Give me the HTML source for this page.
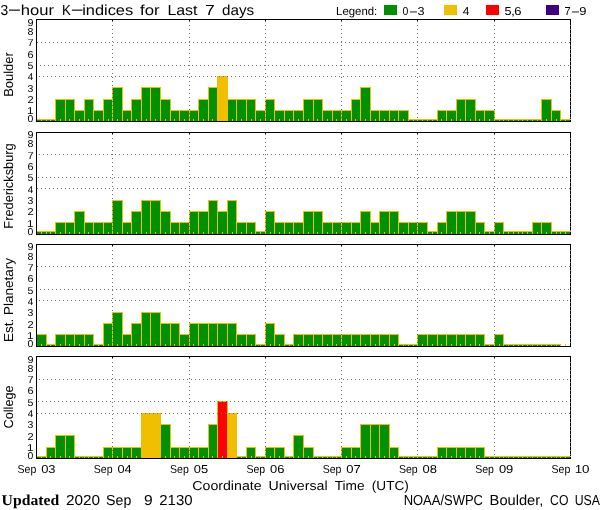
<!DOCTYPE html>
<html><head><meta charset="utf-8"><title>3-hour K-indices for Last 7 days</title>
<style>
html,body{margin:0;padding:0;background:#fff;overflow:hidden}
svg{display:block}
svg text{font-family:"Liberation Sans", sans-serif;fill:#000;text-rendering:geometricPrecision}
</style></head><body>
<svg width="600" height="510" viewBox="0 0 600 510">
<rect x="0" y="0" width="600" height="510" fill="#fff"/>
<g shape-rendering="crispEdges">
<rect x="36" y="119" width="11" height="2" fill="#F0C000"/>
<rect x="37" y="120" width="9" height="1" fill="#009000"/>
<rect x="46" y="119" width="10" height="2" fill="#F0C000"/>
<rect x="47" y="120" width="8" height="1" fill="#009000"/>
<rect x="55" y="99" width="11" height="22" fill="#F0C000"/>
<rect x="56" y="100" width="9" height="21" fill="#009000"/>
<rect x="65" y="99" width="10" height="22" fill="#F0C000"/>
<rect x="66" y="100" width="8" height="21" fill="#009000"/>
<rect x="74" y="110" width="11" height="11" fill="#F0C000"/>
<rect x="75" y="111" width="9" height="10" fill="#009000"/>
<rect x="84" y="99" width="10" height="22" fill="#F0C000"/>
<rect x="85" y="100" width="8" height="21" fill="#009000"/>
<rect x="93" y="110" width="11" height="11" fill="#F0C000"/>
<rect x="94" y="111" width="9" height="10" fill="#009000"/>
<rect x="103" y="99" width="10" height="22" fill="#F0C000"/>
<rect x="104" y="100" width="8" height="21" fill="#009000"/>
<rect x="112" y="87" width="11" height="34" fill="#F0C000"/>
<rect x="113" y="88" width="9" height="33" fill="#009000"/>
<rect x="122" y="110" width="10" height="11" fill="#F0C000"/>
<rect x="123" y="111" width="8" height="10" fill="#009000"/>
<rect x="131" y="99" width="11" height="22" fill="#F0C000"/>
<rect x="132" y="100" width="9" height="21" fill="#009000"/>
<rect x="141" y="87" width="10" height="34" fill="#F0C000"/>
<rect x="142" y="88" width="8" height="33" fill="#009000"/>
<rect x="150" y="87" width="11" height="34" fill="#F0C000"/>
<rect x="151" y="88" width="9" height="33" fill="#009000"/>
<rect x="160" y="99" width="11" height="22" fill="#F0C000"/>
<rect x="161" y="100" width="9" height="21" fill="#009000"/>
<rect x="170" y="110" width="10" height="11" fill="#F0C000"/>
<rect x="171" y="111" width="8" height="10" fill="#009000"/>
<rect x="179" y="110" width="11" height="11" fill="#F0C000"/>
<rect x="180" y="111" width="9" height="10" fill="#009000"/>
<rect x="189" y="110" width="10" height="11" fill="#F0C000"/>
<rect x="190" y="111" width="8" height="10" fill="#009000"/>
<rect x="198" y="99" width="11" height="22" fill="#F0C000"/>
<rect x="199" y="100" width="9" height="21" fill="#009000"/>
<rect x="208" y="87" width="10" height="34" fill="#F0C000"/>
<rect x="209" y="88" width="8" height="33" fill="#009000"/>
<rect x="217" y="76" width="11" height="45" fill="#F0C000"/>
<rect x="218" y="77" width="9" height="44" fill="#F0C000"/>
<rect x="227" y="99" width="10" height="22" fill="#F0C000"/>
<rect x="228" y="100" width="8" height="21" fill="#009000"/>
<rect x="236" y="99" width="11" height="22" fill="#F0C000"/>
<rect x="237" y="100" width="9" height="21" fill="#009000"/>
<rect x="246" y="99" width="10" height="22" fill="#F0C000"/>
<rect x="247" y="100" width="8" height="21" fill="#009000"/>
<rect x="255" y="110" width="11" height="11" fill="#F0C000"/>
<rect x="256" y="111" width="9" height="10" fill="#009000"/>
<rect x="265" y="99" width="10" height="22" fill="#F0C000"/>
<rect x="266" y="100" width="8" height="21" fill="#009000"/>
<rect x="274" y="110" width="11" height="11" fill="#F0C000"/>
<rect x="275" y="111" width="9" height="10" fill="#009000"/>
<rect x="284" y="110" width="10" height="11" fill="#F0C000"/>
<rect x="285" y="111" width="8" height="10" fill="#009000"/>
<rect x="293" y="110" width="11" height="11" fill="#F0C000"/>
<rect x="294" y="111" width="9" height="10" fill="#009000"/>
<rect x="303" y="99" width="11" height="22" fill="#F0C000"/>
<rect x="304" y="100" width="9" height="21" fill="#009000"/>
<rect x="313" y="99" width="10" height="22" fill="#F0C000"/>
<rect x="314" y="100" width="8" height="21" fill="#009000"/>
<rect x="322" y="110" width="11" height="11" fill="#F0C000"/>
<rect x="323" y="111" width="9" height="10" fill="#009000"/>
<rect x="332" y="110" width="10" height="11" fill="#F0C000"/>
<rect x="333" y="111" width="8" height="10" fill="#009000"/>
<rect x="341" y="110" width="11" height="11" fill="#F0C000"/>
<rect x="342" y="111" width="9" height="10" fill="#009000"/>
<rect x="351" y="99" width="10" height="22" fill="#F0C000"/>
<rect x="352" y="100" width="8" height="21" fill="#009000"/>
<rect x="360" y="87" width="11" height="34" fill="#F0C000"/>
<rect x="361" y="88" width="9" height="33" fill="#009000"/>
<rect x="370" y="110" width="10" height="11" fill="#F0C000"/>
<rect x="371" y="111" width="8" height="10" fill="#009000"/>
<rect x="379" y="110" width="11" height="11" fill="#F0C000"/>
<rect x="380" y="111" width="9" height="10" fill="#009000"/>
<rect x="389" y="110" width="10" height="11" fill="#F0C000"/>
<rect x="390" y="111" width="8" height="10" fill="#009000"/>
<rect x="398" y="110" width="11" height="11" fill="#F0C000"/>
<rect x="399" y="111" width="9" height="10" fill="#009000"/>
<rect x="408" y="119" width="10" height="2" fill="#F0C000"/>
<rect x="409" y="120" width="8" height="1" fill="#009000"/>
<rect x="417" y="119" width="11" height="2" fill="#F0C000"/>
<rect x="418" y="120" width="9" height="1" fill="#009000"/>
<rect x="427" y="119" width="11" height="2" fill="#F0C000"/>
<rect x="428" y="120" width="9" height="1" fill="#009000"/>
<rect x="437" y="110" width="10" height="11" fill="#F0C000"/>
<rect x="438" y="111" width="8" height="10" fill="#009000"/>
<rect x="446" y="110" width="11" height="11" fill="#F0C000"/>
<rect x="447" y="111" width="9" height="10" fill="#009000"/>
<rect x="456" y="99" width="10" height="22" fill="#F0C000"/>
<rect x="457" y="100" width="8" height="21" fill="#009000"/>
<rect x="465" y="99" width="11" height="22" fill="#F0C000"/>
<rect x="466" y="100" width="9" height="21" fill="#009000"/>
<rect x="475" y="110" width="10" height="11" fill="#F0C000"/>
<rect x="476" y="111" width="8" height="10" fill="#009000"/>
<rect x="484" y="110" width="11" height="11" fill="#F0C000"/>
<rect x="485" y="111" width="9" height="10" fill="#009000"/>
<rect x="494" y="119" width="10" height="2" fill="#F0C000"/>
<rect x="495" y="120" width="8" height="1" fill="#009000"/>
<rect x="503" y="119" width="11" height="2" fill="#F0C000"/>
<rect x="504" y="120" width="9" height="1" fill="#009000"/>
<rect x="513" y="119" width="10" height="2" fill="#F0C000"/>
<rect x="514" y="120" width="8" height="1" fill="#009000"/>
<rect x="522" y="119" width="11" height="2" fill="#F0C000"/>
<rect x="523" y="120" width="9" height="1" fill="#009000"/>
<rect x="532" y="119" width="10" height="2" fill="#F0C000"/>
<rect x="533" y="120" width="8" height="1" fill="#009000"/>
<rect x="541" y="99" width="11" height="22" fill="#F0C000"/>
<rect x="542" y="100" width="9" height="21" fill="#009000"/>
<rect x="551" y="110" width="10" height="11" fill="#F0C000"/>
<rect x="552" y="111" width="8" height="10" fill="#009000"/>
<rect x="560" y="119" width="11" height="2" fill="#F0C000"/>
<rect x="561" y="120" width="9" height="1" fill="#009000"/>
<rect x="41" y="119" width="1" height="2" fill="#F0C000"/>
<rect x="50" y="119" width="1" height="2" fill="#F0C000"/>
<rect x="60" y="119" width="1" height="2" fill="#F0C000"/>
<rect x="69" y="119" width="1" height="2" fill="#F0C000"/>
<rect x="79" y="119" width="1" height="2" fill="#F0C000"/>
<rect x="88" y="119" width="1" height="2" fill="#F0C000"/>
<rect x="98" y="119" width="1" height="2" fill="#F0C000"/>
<rect x="108" y="119" width="1" height="2" fill="#F0C000"/>
<rect x="117" y="119" width="1" height="2" fill="#F0C000"/>
<rect x="127" y="119" width="1" height="2" fill="#F0C000"/>
<rect x="136" y="119" width="1" height="2" fill="#F0C000"/>
<rect x="146" y="119" width="1" height="2" fill="#F0C000"/>
<rect x="155" y="119" width="1" height="2" fill="#F0C000"/>
<rect x="165" y="119" width="1" height="2" fill="#F0C000"/>
<rect x="174" y="119" width="1" height="2" fill="#F0C000"/>
<rect x="184" y="119" width="1" height="2" fill="#F0C000"/>
<rect x="193" y="119" width="1" height="2" fill="#F0C000"/>
<rect x="203" y="119" width="1" height="2" fill="#F0C000"/>
<rect x="212" y="119" width="1" height="2" fill="#F0C000"/>
<rect x="222" y="119" width="1" height="2" fill="#F0C000"/>
<rect x="232" y="119" width="1" height="2" fill="#F0C000"/>
<rect x="241" y="119" width="1" height="2" fill="#F0C000"/>
<rect x="251" y="119" width="1" height="2" fill="#F0C000"/>
<rect x="260" y="119" width="1" height="2" fill="#F0C000"/>
<rect x="270" y="119" width="1" height="2" fill="#F0C000"/>
<rect x="279" y="119" width="1" height="2" fill="#F0C000"/>
<rect x="289" y="119" width="1" height="2" fill="#F0C000"/>
<rect x="298" y="119" width="1" height="2" fill="#F0C000"/>
<rect x="308" y="119" width="1" height="2" fill="#F0C000"/>
<rect x="317" y="119" width="1" height="2" fill="#F0C000"/>
<rect x="327" y="119" width="1" height="2" fill="#F0C000"/>
<rect x="336" y="119" width="1" height="2" fill="#F0C000"/>
<rect x="346" y="119" width="1" height="2" fill="#F0C000"/>
<rect x="355" y="119" width="1" height="2" fill="#F0C000"/>
<rect x="365" y="119" width="1" height="2" fill="#F0C000"/>
<rect x="375" y="119" width="1" height="2" fill="#F0C000"/>
<rect x="384" y="119" width="1" height="2" fill="#F0C000"/>
<rect x="394" y="119" width="1" height="2" fill="#F0C000"/>
<rect x="403" y="119" width="1" height="2" fill="#F0C000"/>
<rect x="413" y="119" width="1" height="2" fill="#F0C000"/>
<rect x="422" y="119" width="1" height="2" fill="#F0C000"/>
<rect x="432" y="119" width="1" height="2" fill="#F0C000"/>
<rect x="441" y="119" width="1" height="2" fill="#F0C000"/>
<rect x="451" y="119" width="1" height="2" fill="#F0C000"/>
<rect x="460" y="119" width="1" height="2" fill="#F0C000"/>
<rect x="470" y="119" width="1" height="2" fill="#F0C000"/>
<rect x="479" y="119" width="1" height="2" fill="#F0C000"/>
<rect x="489" y="119" width="1" height="2" fill="#F0C000"/>
<rect x="499" y="119" width="1" height="2" fill="#F0C000"/>
<rect x="508" y="119" width="1" height="2" fill="#F0C000"/>
<rect x="518" y="119" width="1" height="2" fill="#F0C000"/>
<rect x="527" y="119" width="1" height="2" fill="#F0C000"/>
<rect x="537" y="119" width="1" height="2" fill="#F0C000"/>
<rect x="546" y="119" width="1" height="2" fill="#F0C000"/>
<rect x="556" y="119" width="1" height="2" fill="#F0C000"/>
<rect x="565" y="119" width="1" height="2" fill="#F0C000"/>
<path d="M39 76.5H570" stroke="#707070" stroke-dasharray="1 3" fill="none"/>
<path d="M36 65.5H570" stroke="#707070" stroke-dasharray="1 3" fill="none"/>
<path d="M37 42.5H570" stroke="#707070" stroke-dasharray="1 3" fill="none"/>
<rect x="112" y="20" width="1" height="1" fill="#000"/>
<rect x="112" y="21" width="1" height="1" fill="#707070"/>
<path d="M112.5 25V121" stroke="#707070" stroke-dasharray="1 3" fill="none"/>
<rect x="189" y="20" width="1" height="1" fill="#000"/>
<rect x="189" y="21" width="1" height="1" fill="#707070"/>
<path d="M189.5 25V121" stroke="#707070" stroke-dasharray="1 3" fill="none"/>
<rect x="265" y="20" width="1" height="1" fill="#000"/>
<rect x="265" y="21" width="1" height="1" fill="#707070"/>
<path d="M265.5 25V121" stroke="#707070" stroke-dasharray="1 3" fill="none"/>
<rect x="341" y="20" width="1" height="1" fill="#000"/>
<rect x="341" y="21" width="1" height="1" fill="#707070"/>
<path d="M341.5 25V121" stroke="#707070" stroke-dasharray="1 3" fill="none"/>
<rect x="417" y="20" width="1" height="1" fill="#000"/>
<rect x="417" y="21" width="1" height="1" fill="#707070"/>
<path d="M417.5 25V121" stroke="#707070" stroke-dasharray="1 3" fill="none"/>
<rect x="494" y="20" width="1" height="1" fill="#000"/>
<rect x="494" y="21" width="1" height="1" fill="#707070"/>
<path d="M494.5 25V121" stroke="#707070" stroke-dasharray="1 3" fill="none"/>
<rect x="36" y="19" width="535" height="1" fill="#000"/>
<rect x="36" y="121" width="535" height="1" fill="#000"/>
<rect x="36" y="19" width="1" height="103" fill="#000"/>
<rect x="570" y="19" width="1" height="103" fill="#000"/>
<rect x="570" y="119" width="1" height="1" fill="#F0C000"/>
<path d="M570.5 25V121" stroke="#666" stroke-dasharray="1 3" fill="none"/>
<rect x="36" y="231" width="11" height="3" fill="#F0C000"/>
<rect x="37" y="232" width="9" height="2" fill="#009000"/>
<rect x="46" y="231" width="10" height="3" fill="#F0C000"/>
<rect x="47" y="232" width="8" height="2" fill="#009000"/>
<rect x="55" y="222" width="11" height="12" fill="#F0C000"/>
<rect x="56" y="223" width="9" height="11" fill="#009000"/>
<rect x="65" y="222" width="10" height="12" fill="#F0C000"/>
<rect x="66" y="223" width="8" height="11" fill="#009000"/>
<rect x="74" y="211" width="11" height="23" fill="#F0C000"/>
<rect x="75" y="212" width="9" height="22" fill="#009000"/>
<rect x="84" y="222" width="10" height="12" fill="#F0C000"/>
<rect x="85" y="223" width="8" height="11" fill="#009000"/>
<rect x="93" y="222" width="11" height="12" fill="#F0C000"/>
<rect x="94" y="223" width="9" height="11" fill="#009000"/>
<rect x="103" y="222" width="10" height="12" fill="#F0C000"/>
<rect x="104" y="223" width="8" height="11" fill="#009000"/>
<rect x="112" y="200" width="11" height="34" fill="#F0C000"/>
<rect x="113" y="201" width="9" height="33" fill="#009000"/>
<rect x="122" y="222" width="10" height="12" fill="#F0C000"/>
<rect x="123" y="223" width="8" height="11" fill="#009000"/>
<rect x="131" y="211" width="11" height="23" fill="#F0C000"/>
<rect x="132" y="212" width="9" height="22" fill="#009000"/>
<rect x="141" y="200" width="10" height="34" fill="#F0C000"/>
<rect x="142" y="201" width="8" height="33" fill="#009000"/>
<rect x="150" y="200" width="11" height="34" fill="#F0C000"/>
<rect x="151" y="201" width="9" height="33" fill="#009000"/>
<rect x="160" y="211" width="11" height="23" fill="#F0C000"/>
<rect x="161" y="212" width="9" height="22" fill="#009000"/>
<rect x="170" y="222" width="10" height="12" fill="#F0C000"/>
<rect x="171" y="223" width="8" height="11" fill="#009000"/>
<rect x="179" y="222" width="11" height="12" fill="#F0C000"/>
<rect x="180" y="223" width="9" height="11" fill="#009000"/>
<rect x="189" y="211" width="10" height="23" fill="#F0C000"/>
<rect x="190" y="212" width="8" height="22" fill="#009000"/>
<rect x="198" y="211" width="11" height="23" fill="#F0C000"/>
<rect x="199" y="212" width="9" height="22" fill="#009000"/>
<rect x="208" y="200" width="10" height="34" fill="#F0C000"/>
<rect x="209" y="201" width="8" height="33" fill="#009000"/>
<rect x="217" y="211" width="11" height="23" fill="#F0C000"/>
<rect x="218" y="212" width="9" height="22" fill="#009000"/>
<rect x="227" y="200" width="10" height="34" fill="#F0C000"/>
<rect x="228" y="201" width="8" height="33" fill="#009000"/>
<rect x="236" y="222" width="11" height="12" fill="#F0C000"/>
<rect x="237" y="223" width="9" height="11" fill="#009000"/>
<rect x="246" y="222" width="10" height="12" fill="#F0C000"/>
<rect x="247" y="223" width="8" height="11" fill="#009000"/>
<rect x="255" y="231" width="11" height="3" fill="#F0C000"/>
<rect x="256" y="232" width="9" height="2" fill="#009000"/>
<rect x="265" y="211" width="10" height="23" fill="#F0C000"/>
<rect x="266" y="212" width="8" height="22" fill="#009000"/>
<rect x="274" y="222" width="11" height="12" fill="#F0C000"/>
<rect x="275" y="223" width="9" height="11" fill="#009000"/>
<rect x="284" y="222" width="10" height="12" fill="#F0C000"/>
<rect x="285" y="223" width="8" height="11" fill="#009000"/>
<rect x="293" y="222" width="11" height="12" fill="#F0C000"/>
<rect x="294" y="223" width="9" height="11" fill="#009000"/>
<rect x="303" y="211" width="11" height="23" fill="#F0C000"/>
<rect x="304" y="212" width="9" height="22" fill="#009000"/>
<rect x="313" y="211" width="10" height="23" fill="#F0C000"/>
<rect x="314" y="212" width="8" height="22" fill="#009000"/>
<rect x="322" y="222" width="11" height="12" fill="#F0C000"/>
<rect x="323" y="223" width="9" height="11" fill="#009000"/>
<rect x="332" y="222" width="10" height="12" fill="#F0C000"/>
<rect x="333" y="223" width="8" height="11" fill="#009000"/>
<rect x="341" y="222" width="11" height="12" fill="#F0C000"/>
<rect x="342" y="223" width="9" height="11" fill="#009000"/>
<rect x="351" y="222" width="10" height="12" fill="#F0C000"/>
<rect x="352" y="223" width="8" height="11" fill="#009000"/>
<rect x="360" y="211" width="11" height="23" fill="#F0C000"/>
<rect x="361" y="212" width="9" height="22" fill="#009000"/>
<rect x="370" y="222" width="10" height="12" fill="#F0C000"/>
<rect x="371" y="223" width="8" height="11" fill="#009000"/>
<rect x="379" y="211" width="11" height="23" fill="#F0C000"/>
<rect x="380" y="212" width="9" height="22" fill="#009000"/>
<rect x="389" y="211" width="10" height="23" fill="#F0C000"/>
<rect x="390" y="212" width="8" height="22" fill="#009000"/>
<rect x="398" y="222" width="11" height="12" fill="#F0C000"/>
<rect x="399" y="223" width="9" height="11" fill="#009000"/>
<rect x="408" y="222" width="10" height="12" fill="#F0C000"/>
<rect x="409" y="223" width="8" height="11" fill="#009000"/>
<rect x="417" y="222" width="11" height="12" fill="#F0C000"/>
<rect x="418" y="223" width="9" height="11" fill="#009000"/>
<rect x="427" y="231" width="11" height="3" fill="#F0C000"/>
<rect x="428" y="232" width="9" height="2" fill="#009000"/>
<rect x="437" y="222" width="10" height="12" fill="#F0C000"/>
<rect x="438" y="223" width="8" height="11" fill="#009000"/>
<rect x="446" y="211" width="11" height="23" fill="#F0C000"/>
<rect x="447" y="212" width="9" height="22" fill="#009000"/>
<rect x="456" y="211" width="10" height="23" fill="#F0C000"/>
<rect x="457" y="212" width="8" height="22" fill="#009000"/>
<rect x="465" y="211" width="11" height="23" fill="#F0C000"/>
<rect x="466" y="212" width="9" height="22" fill="#009000"/>
<rect x="475" y="222" width="10" height="12" fill="#F0C000"/>
<rect x="476" y="223" width="8" height="11" fill="#009000"/>
<rect x="484" y="231" width="11" height="3" fill="#F0C000"/>
<rect x="485" y="232" width="9" height="2" fill="#009000"/>
<rect x="494" y="222" width="10" height="12" fill="#F0C000"/>
<rect x="495" y="223" width="8" height="11" fill="#009000"/>
<rect x="503" y="231" width="11" height="3" fill="#F0C000"/>
<rect x="504" y="232" width="9" height="2" fill="#009000"/>
<rect x="513" y="231" width="10" height="3" fill="#F0C000"/>
<rect x="514" y="232" width="8" height="2" fill="#009000"/>
<rect x="522" y="231" width="11" height="3" fill="#F0C000"/>
<rect x="523" y="232" width="9" height="2" fill="#009000"/>
<rect x="532" y="222" width="10" height="12" fill="#F0C000"/>
<rect x="533" y="223" width="8" height="11" fill="#009000"/>
<rect x="541" y="222" width="11" height="12" fill="#F0C000"/>
<rect x="542" y="223" width="9" height="11" fill="#009000"/>
<rect x="551" y="231" width="10" height="3" fill="#F0C000"/>
<rect x="552" y="232" width="8" height="2" fill="#009000"/>
<rect x="560" y="231" width="11" height="3" fill="#F0C000"/>
<rect x="561" y="232" width="9" height="2" fill="#009000"/>
<rect x="41" y="232" width="1" height="2" fill="#F0C000"/>
<rect x="50" y="232" width="1" height="2" fill="#F0C000"/>
<rect x="60" y="232" width="1" height="2" fill="#F0C000"/>
<rect x="69" y="232" width="1" height="2" fill="#F0C000"/>
<rect x="79" y="232" width="1" height="2" fill="#F0C000"/>
<rect x="88" y="232" width="1" height="2" fill="#F0C000"/>
<rect x="98" y="232" width="1" height="2" fill="#F0C000"/>
<rect x="108" y="232" width="1" height="2" fill="#F0C000"/>
<rect x="117" y="232" width="1" height="2" fill="#F0C000"/>
<rect x="127" y="232" width="1" height="2" fill="#F0C000"/>
<rect x="136" y="232" width="1" height="2" fill="#F0C000"/>
<rect x="146" y="232" width="1" height="2" fill="#F0C000"/>
<rect x="155" y="232" width="1" height="2" fill="#F0C000"/>
<rect x="165" y="232" width="1" height="2" fill="#F0C000"/>
<rect x="174" y="232" width="1" height="2" fill="#F0C000"/>
<rect x="184" y="232" width="1" height="2" fill="#F0C000"/>
<rect x="193" y="232" width="1" height="2" fill="#F0C000"/>
<rect x="203" y="232" width="1" height="2" fill="#F0C000"/>
<rect x="212" y="232" width="1" height="2" fill="#F0C000"/>
<rect x="222" y="232" width="1" height="2" fill="#F0C000"/>
<rect x="232" y="232" width="1" height="2" fill="#F0C000"/>
<rect x="241" y="232" width="1" height="2" fill="#F0C000"/>
<rect x="251" y="232" width="1" height="2" fill="#F0C000"/>
<rect x="260" y="232" width="1" height="2" fill="#F0C000"/>
<rect x="270" y="232" width="1" height="2" fill="#F0C000"/>
<rect x="279" y="232" width="1" height="2" fill="#F0C000"/>
<rect x="289" y="232" width="1" height="2" fill="#F0C000"/>
<rect x="298" y="232" width="1" height="2" fill="#F0C000"/>
<rect x="308" y="232" width="1" height="2" fill="#F0C000"/>
<rect x="317" y="232" width="1" height="2" fill="#F0C000"/>
<rect x="327" y="232" width="1" height="2" fill="#F0C000"/>
<rect x="336" y="232" width="1" height="2" fill="#F0C000"/>
<rect x="346" y="232" width="1" height="2" fill="#F0C000"/>
<rect x="355" y="232" width="1" height="2" fill="#F0C000"/>
<rect x="365" y="232" width="1" height="2" fill="#F0C000"/>
<rect x="375" y="232" width="1" height="2" fill="#F0C000"/>
<rect x="384" y="232" width="1" height="2" fill="#F0C000"/>
<rect x="394" y="232" width="1" height="2" fill="#F0C000"/>
<rect x="403" y="232" width="1" height="2" fill="#F0C000"/>
<rect x="413" y="232" width="1" height="2" fill="#F0C000"/>
<rect x="422" y="232" width="1" height="2" fill="#F0C000"/>
<rect x="432" y="232" width="1" height="2" fill="#F0C000"/>
<rect x="441" y="232" width="1" height="2" fill="#F0C000"/>
<rect x="451" y="232" width="1" height="2" fill="#F0C000"/>
<rect x="460" y="232" width="1" height="2" fill="#F0C000"/>
<rect x="470" y="232" width="1" height="2" fill="#F0C000"/>
<rect x="479" y="232" width="1" height="2" fill="#F0C000"/>
<rect x="489" y="232" width="1" height="2" fill="#F0C000"/>
<rect x="499" y="232" width="1" height="2" fill="#F0C000"/>
<rect x="508" y="232" width="1" height="2" fill="#F0C000"/>
<rect x="518" y="232" width="1" height="2" fill="#F0C000"/>
<rect x="527" y="232" width="1" height="2" fill="#F0C000"/>
<rect x="537" y="232" width="1" height="2" fill="#F0C000"/>
<rect x="546" y="232" width="1" height="2" fill="#F0C000"/>
<rect x="556" y="232" width="1" height="2" fill="#F0C000"/>
<rect x="565" y="232" width="1" height="2" fill="#F0C000"/>
<path d="M37 188.5H570" stroke="#707070" stroke-dasharray="1 3" fill="none"/>
<path d="M38 177.5H570" stroke="#707070" stroke-dasharray="1 3" fill="none"/>
<path d="M39 154.5H570" stroke="#707070" stroke-dasharray="1 3" fill="none"/>
<rect x="112" y="133" width="1" height="1" fill="#000"/>
<rect x="112" y="134" width="1" height="1" fill="#707070"/>
<path d="M112.5 138V234" stroke="#707070" stroke-dasharray="1 3" fill="none"/>
<rect x="189" y="133" width="1" height="1" fill="#000"/>
<rect x="189" y="134" width="1" height="1" fill="#707070"/>
<path d="M189.5 138V234" stroke="#707070" stroke-dasharray="1 3" fill="none"/>
<rect x="265" y="133" width="1" height="1" fill="#000"/>
<rect x="265" y="134" width="1" height="1" fill="#707070"/>
<path d="M265.5 138V234" stroke="#707070" stroke-dasharray="1 3" fill="none"/>
<rect x="341" y="133" width="1" height="1" fill="#000"/>
<rect x="341" y="134" width="1" height="1" fill="#707070"/>
<path d="M341.5 138V234" stroke="#707070" stroke-dasharray="1 3" fill="none"/>
<rect x="417" y="133" width="1" height="1" fill="#000"/>
<rect x="417" y="134" width="1" height="1" fill="#707070"/>
<path d="M417.5 138V234" stroke="#707070" stroke-dasharray="1 3" fill="none"/>
<rect x="494" y="133" width="1" height="1" fill="#000"/>
<rect x="494" y="134" width="1" height="1" fill="#707070"/>
<path d="M494.5 138V234" stroke="#707070" stroke-dasharray="1 3" fill="none"/>
<rect x="36" y="132" width="535" height="1" fill="#000"/>
<rect x="36" y="234" width="535" height="1" fill="#000"/>
<rect x="36" y="132" width="1" height="103" fill="#000"/>
<rect x="570" y="132" width="1" height="103" fill="#000"/>
<rect x="570" y="231" width="1" height="1" fill="#F0C000"/>
<path d="M570.5 138V234" stroke="#666" stroke-dasharray="1 3" fill="none"/>
<rect x="36" y="334" width="11" height="12" fill="#F0C000"/>
<rect x="37" y="335" width="9" height="11" fill="#009000"/>
<rect x="46" y="344" width="10" height="2" fill="#F0C000"/>
<rect x="47" y="345" width="8" height="1" fill="#009000"/>
<rect x="55" y="334" width="11" height="12" fill="#F0C000"/>
<rect x="56" y="335" width="9" height="11" fill="#009000"/>
<rect x="65" y="334" width="10" height="12" fill="#F0C000"/>
<rect x="66" y="335" width="8" height="11" fill="#009000"/>
<rect x="74" y="334" width="11" height="12" fill="#F0C000"/>
<rect x="75" y="335" width="9" height="11" fill="#009000"/>
<rect x="84" y="334" width="10" height="12" fill="#F0C000"/>
<rect x="85" y="335" width="8" height="11" fill="#009000"/>
<rect x="93" y="344" width="11" height="2" fill="#F0C000"/>
<rect x="94" y="345" width="9" height="1" fill="#009000"/>
<rect x="103" y="323" width="10" height="23" fill="#F0C000"/>
<rect x="104" y="324" width="8" height="22" fill="#009000"/>
<rect x="112" y="312" width="11" height="34" fill="#F0C000"/>
<rect x="113" y="313" width="9" height="33" fill="#009000"/>
<rect x="122" y="334" width="10" height="12" fill="#F0C000"/>
<rect x="123" y="335" width="8" height="11" fill="#009000"/>
<rect x="131" y="323" width="11" height="23" fill="#F0C000"/>
<rect x="132" y="324" width="9" height="22" fill="#009000"/>
<rect x="141" y="312" width="10" height="34" fill="#F0C000"/>
<rect x="142" y="313" width="8" height="33" fill="#009000"/>
<rect x="150" y="312" width="11" height="34" fill="#F0C000"/>
<rect x="151" y="313" width="9" height="33" fill="#009000"/>
<rect x="160" y="323" width="11" height="23" fill="#F0C000"/>
<rect x="161" y="324" width="9" height="22" fill="#009000"/>
<rect x="170" y="323" width="10" height="23" fill="#F0C000"/>
<rect x="171" y="324" width="8" height="22" fill="#009000"/>
<rect x="179" y="334" width="11" height="12" fill="#F0C000"/>
<rect x="180" y="335" width="9" height="11" fill="#009000"/>
<rect x="189" y="323" width="10" height="23" fill="#F0C000"/>
<rect x="190" y="324" width="8" height="22" fill="#009000"/>
<rect x="198" y="323" width="11" height="23" fill="#F0C000"/>
<rect x="199" y="324" width="9" height="22" fill="#009000"/>
<rect x="208" y="323" width="10" height="23" fill="#F0C000"/>
<rect x="209" y="324" width="8" height="22" fill="#009000"/>
<rect x="217" y="323" width="11" height="23" fill="#F0C000"/>
<rect x="218" y="324" width="9" height="22" fill="#009000"/>
<rect x="227" y="323" width="10" height="23" fill="#F0C000"/>
<rect x="228" y="324" width="8" height="22" fill="#009000"/>
<rect x="236" y="334" width="11" height="12" fill="#F0C000"/>
<rect x="237" y="335" width="9" height="11" fill="#009000"/>
<rect x="246" y="334" width="10" height="12" fill="#F0C000"/>
<rect x="247" y="335" width="8" height="11" fill="#009000"/>
<rect x="255" y="344" width="11" height="2" fill="#F0C000"/>
<rect x="256" y="345" width="9" height="1" fill="#009000"/>
<rect x="265" y="323" width="10" height="23" fill="#F0C000"/>
<rect x="266" y="324" width="8" height="22" fill="#009000"/>
<rect x="274" y="334" width="11" height="12" fill="#F0C000"/>
<rect x="275" y="335" width="9" height="11" fill="#009000"/>
<rect x="284" y="344" width="10" height="2" fill="#F0C000"/>
<rect x="285" y="345" width="8" height="1" fill="#009000"/>
<rect x="293" y="334" width="11" height="12" fill="#F0C000"/>
<rect x="294" y="335" width="9" height="11" fill="#009000"/>
<rect x="303" y="334" width="11" height="12" fill="#F0C000"/>
<rect x="304" y="335" width="9" height="11" fill="#009000"/>
<rect x="313" y="334" width="10" height="12" fill="#F0C000"/>
<rect x="314" y="335" width="8" height="11" fill="#009000"/>
<rect x="322" y="334" width="11" height="12" fill="#F0C000"/>
<rect x="323" y="335" width="9" height="11" fill="#009000"/>
<rect x="332" y="334" width="10" height="12" fill="#F0C000"/>
<rect x="333" y="335" width="8" height="11" fill="#009000"/>
<rect x="341" y="334" width="11" height="12" fill="#F0C000"/>
<rect x="342" y="335" width="9" height="11" fill="#009000"/>
<rect x="351" y="334" width="10" height="12" fill="#F0C000"/>
<rect x="352" y="335" width="8" height="11" fill="#009000"/>
<rect x="360" y="334" width="11" height="12" fill="#F0C000"/>
<rect x="361" y="335" width="9" height="11" fill="#009000"/>
<rect x="370" y="334" width="10" height="12" fill="#F0C000"/>
<rect x="371" y="335" width="8" height="11" fill="#009000"/>
<rect x="379" y="334" width="11" height="12" fill="#F0C000"/>
<rect x="380" y="335" width="9" height="11" fill="#009000"/>
<rect x="389" y="334" width="10" height="12" fill="#F0C000"/>
<rect x="390" y="335" width="8" height="11" fill="#009000"/>
<rect x="398" y="344" width="11" height="2" fill="#F0C000"/>
<rect x="399" y="345" width="9" height="1" fill="#009000"/>
<rect x="408" y="344" width="10" height="2" fill="#F0C000"/>
<rect x="409" y="345" width="8" height="1" fill="#009000"/>
<rect x="417" y="334" width="11" height="12" fill="#F0C000"/>
<rect x="418" y="335" width="9" height="11" fill="#009000"/>
<rect x="427" y="334" width="11" height="12" fill="#F0C000"/>
<rect x="428" y="335" width="9" height="11" fill="#009000"/>
<rect x="437" y="334" width="10" height="12" fill="#F0C000"/>
<rect x="438" y="335" width="8" height="11" fill="#009000"/>
<rect x="446" y="334" width="11" height="12" fill="#F0C000"/>
<rect x="447" y="335" width="9" height="11" fill="#009000"/>
<rect x="456" y="334" width="10" height="12" fill="#F0C000"/>
<rect x="457" y="335" width="8" height="11" fill="#009000"/>
<rect x="465" y="334" width="11" height="12" fill="#F0C000"/>
<rect x="466" y="335" width="9" height="11" fill="#009000"/>
<rect x="475" y="334" width="10" height="12" fill="#F0C000"/>
<rect x="476" y="335" width="8" height="11" fill="#009000"/>
<rect x="484" y="344" width="11" height="2" fill="#F0C000"/>
<rect x="485" y="345" width="9" height="1" fill="#009000"/>
<rect x="494" y="334" width="10" height="12" fill="#F0C000"/>
<rect x="495" y="335" width="8" height="11" fill="#009000"/>
<rect x="503" y="344" width="11" height="2" fill="#F0C000"/>
<rect x="504" y="345" width="9" height="1" fill="#009000"/>
<rect x="513" y="344" width="10" height="2" fill="#F0C000"/>
<rect x="514" y="345" width="8" height="1" fill="#009000"/>
<rect x="522" y="344" width="11" height="2" fill="#F0C000"/>
<rect x="523" y="345" width="9" height="1" fill="#009000"/>
<rect x="532" y="344" width="10" height="2" fill="#F0C000"/>
<rect x="533" y="345" width="8" height="1" fill="#009000"/>
<rect x="541" y="344" width="11" height="2" fill="#F0C000"/>
<rect x="542" y="345" width="9" height="1" fill="#009000"/>
<rect x="551" y="344" width="10" height="2" fill="#F0C000"/>
<rect x="552" y="345" width="8" height="1" fill="#009000"/>
<rect x="41" y="344" width="1" height="2" fill="#F0C000"/>
<rect x="50" y="344" width="1" height="2" fill="#F0C000"/>
<rect x="60" y="344" width="1" height="2" fill="#F0C000"/>
<rect x="69" y="344" width="1" height="2" fill="#F0C000"/>
<rect x="79" y="344" width="1" height="2" fill="#F0C000"/>
<rect x="88" y="344" width="1" height="2" fill="#F0C000"/>
<rect x="98" y="344" width="1" height="2" fill="#F0C000"/>
<rect x="108" y="344" width="1" height="2" fill="#F0C000"/>
<rect x="117" y="344" width="1" height="2" fill="#F0C000"/>
<rect x="127" y="344" width="1" height="2" fill="#F0C000"/>
<rect x="136" y="344" width="1" height="2" fill="#F0C000"/>
<rect x="146" y="344" width="1" height="2" fill="#F0C000"/>
<rect x="155" y="344" width="1" height="2" fill="#F0C000"/>
<rect x="165" y="344" width="1" height="2" fill="#F0C000"/>
<rect x="174" y="344" width="1" height="2" fill="#F0C000"/>
<rect x="184" y="344" width="1" height="2" fill="#F0C000"/>
<rect x="193" y="344" width="1" height="2" fill="#F0C000"/>
<rect x="203" y="344" width="1" height="2" fill="#F0C000"/>
<rect x="212" y="344" width="1" height="2" fill="#F0C000"/>
<rect x="222" y="344" width="1" height="2" fill="#F0C000"/>
<rect x="232" y="344" width="1" height="2" fill="#F0C000"/>
<rect x="241" y="344" width="1" height="2" fill="#F0C000"/>
<rect x="251" y="344" width="1" height="2" fill="#F0C000"/>
<rect x="260" y="344" width="1" height="2" fill="#F0C000"/>
<rect x="270" y="344" width="1" height="2" fill="#F0C000"/>
<rect x="279" y="344" width="1" height="2" fill="#F0C000"/>
<rect x="289" y="344" width="1" height="2" fill="#F0C000"/>
<rect x="298" y="344" width="1" height="2" fill="#F0C000"/>
<rect x="308" y="344" width="1" height="2" fill="#F0C000"/>
<rect x="317" y="344" width="1" height="2" fill="#F0C000"/>
<rect x="327" y="344" width="1" height="2" fill="#F0C000"/>
<rect x="336" y="344" width="1" height="2" fill="#F0C000"/>
<rect x="346" y="344" width="1" height="2" fill="#F0C000"/>
<rect x="355" y="344" width="1" height="2" fill="#F0C000"/>
<rect x="365" y="344" width="1" height="2" fill="#F0C000"/>
<rect x="375" y="344" width="1" height="2" fill="#F0C000"/>
<rect x="384" y="344" width="1" height="2" fill="#F0C000"/>
<rect x="394" y="344" width="1" height="2" fill="#F0C000"/>
<rect x="403" y="344" width="1" height="2" fill="#F0C000"/>
<rect x="413" y="344" width="1" height="2" fill="#F0C000"/>
<rect x="422" y="344" width="1" height="2" fill="#F0C000"/>
<rect x="432" y="344" width="1" height="2" fill="#F0C000"/>
<rect x="441" y="344" width="1" height="2" fill="#F0C000"/>
<rect x="451" y="344" width="1" height="2" fill="#F0C000"/>
<rect x="460" y="344" width="1" height="2" fill="#F0C000"/>
<rect x="470" y="344" width="1" height="2" fill="#F0C000"/>
<rect x="479" y="344" width="1" height="2" fill="#F0C000"/>
<rect x="489" y="344" width="1" height="2" fill="#F0C000"/>
<rect x="499" y="344" width="1" height="2" fill="#F0C000"/>
<rect x="508" y="344" width="1" height="2" fill="#F0C000"/>
<rect x="518" y="344" width="1" height="2" fill="#F0C000"/>
<rect x="527" y="344" width="1" height="2" fill="#F0C000"/>
<rect x="537" y="344" width="1" height="2" fill="#F0C000"/>
<rect x="546" y="344" width="1" height="2" fill="#F0C000"/>
<rect x="556" y="344" width="1" height="2" fill="#F0C000"/>
<rect x="565" y="344" width="1" height="2" fill="#F0C000"/>
<path d="M39 300.5H570" stroke="#707070" stroke-dasharray="1 3" fill="none"/>
<path d="M36 289.5H570" stroke="#707070" stroke-dasharray="1 3" fill="none"/>
<path d="M37 266.5H570" stroke="#707070" stroke-dasharray="1 3" fill="none"/>
<rect x="112" y="245" width="1" height="1" fill="#000"/>
<rect x="112" y="246" width="1" height="1" fill="#707070"/>
<path d="M112.5 250V346" stroke="#707070" stroke-dasharray="1 3" fill="none"/>
<rect x="189" y="245" width="1" height="1" fill="#000"/>
<rect x="189" y="246" width="1" height="1" fill="#707070"/>
<path d="M189.5 250V346" stroke="#707070" stroke-dasharray="1 3" fill="none"/>
<rect x="265" y="245" width="1" height="1" fill="#000"/>
<rect x="265" y="246" width="1" height="1" fill="#707070"/>
<path d="M265.5 250V346" stroke="#707070" stroke-dasharray="1 3" fill="none"/>
<rect x="341" y="245" width="1" height="1" fill="#000"/>
<rect x="341" y="246" width="1" height="1" fill="#707070"/>
<path d="M341.5 250V346" stroke="#707070" stroke-dasharray="1 3" fill="none"/>
<rect x="417" y="245" width="1" height="1" fill="#000"/>
<rect x="417" y="246" width="1" height="1" fill="#707070"/>
<path d="M417.5 250V346" stroke="#707070" stroke-dasharray="1 3" fill="none"/>
<rect x="494" y="245" width="1" height="1" fill="#000"/>
<rect x="494" y="246" width="1" height="1" fill="#707070"/>
<path d="M494.5 250V346" stroke="#707070" stroke-dasharray="1 3" fill="none"/>
<rect x="36" y="244" width="535" height="1" fill="#000"/>
<rect x="36" y="346" width="535" height="1" fill="#000"/>
<rect x="36" y="244" width="1" height="103" fill="#000"/>
<rect x="570" y="244" width="1" height="103" fill="#000"/>
<path d="M570.5 250V346" stroke="#666" stroke-dasharray="1 3" fill="none"/>
<rect x="36" y="456" width="11" height="2" fill="#F0C000"/>
<rect x="37" y="457" width="9" height="1" fill="#009000"/>
<rect x="46" y="447" width="10" height="11" fill="#F0C000"/>
<rect x="47" y="448" width="8" height="10" fill="#009000"/>
<rect x="55" y="435" width="11" height="23" fill="#F0C000"/>
<rect x="56" y="436" width="9" height="22" fill="#009000"/>
<rect x="65" y="435" width="10" height="23" fill="#F0C000"/>
<rect x="66" y="436" width="8" height="22" fill="#009000"/>
<rect x="74" y="456" width="11" height="2" fill="#F0C000"/>
<rect x="75" y="457" width="9" height="1" fill="#009000"/>
<rect x="84" y="456" width="10" height="2" fill="#F0C000"/>
<rect x="85" y="457" width="8" height="1" fill="#009000"/>
<rect x="93" y="456" width="11" height="2" fill="#F0C000"/>
<rect x="94" y="457" width="9" height="1" fill="#009000"/>
<rect x="103" y="447" width="10" height="11" fill="#F0C000"/>
<rect x="104" y="448" width="8" height="10" fill="#009000"/>
<rect x="112" y="447" width="11" height="11" fill="#F0C000"/>
<rect x="113" y="448" width="9" height="10" fill="#009000"/>
<rect x="122" y="447" width="10" height="11" fill="#F0C000"/>
<rect x="123" y="448" width="8" height="10" fill="#009000"/>
<rect x="131" y="447" width="11" height="11" fill="#F0C000"/>
<rect x="132" y="448" width="9" height="10" fill="#009000"/>
<rect x="141" y="413" width="10" height="45" fill="#F0C000"/>
<rect x="142" y="414" width="8" height="44" fill="#F0C000"/>
<rect x="150" y="413" width="11" height="45" fill="#F0C000"/>
<rect x="151" y="414" width="9" height="44" fill="#F0C000"/>
<rect x="160" y="424" width="11" height="34" fill="#F0C000"/>
<rect x="161" y="425" width="9" height="33" fill="#009000"/>
<rect x="170" y="447" width="10" height="11" fill="#F0C000"/>
<rect x="171" y="448" width="8" height="10" fill="#009000"/>
<rect x="179" y="447" width="11" height="11" fill="#F0C000"/>
<rect x="180" y="448" width="9" height="10" fill="#009000"/>
<rect x="189" y="447" width="10" height="11" fill="#F0C000"/>
<rect x="190" y="448" width="8" height="10" fill="#009000"/>
<rect x="198" y="447" width="11" height="11" fill="#F0C000"/>
<rect x="199" y="448" width="9" height="10" fill="#009000"/>
<rect x="208" y="424" width="10" height="34" fill="#F0C000"/>
<rect x="209" y="425" width="8" height="33" fill="#009000"/>
<rect x="217" y="401" width="11" height="57" fill="#F0C000"/>
<rect x="218" y="402" width="9" height="56" fill="#FF0000"/>
<rect x="227" y="413" width="10" height="45" fill="#F0C000"/>
<rect x="228" y="414" width="8" height="44" fill="#F0C000"/>
<rect x="236" y="456" width="11" height="2" fill="#F0C000"/>
<rect x="237" y="457" width="9" height="1" fill="#009000"/>
<rect x="246" y="447" width="10" height="11" fill="#F0C000"/>
<rect x="247" y="448" width="8" height="10" fill="#009000"/>
<rect x="255" y="456" width="11" height="2" fill="#F0C000"/>
<rect x="256" y="457" width="9" height="1" fill="#009000"/>
<rect x="265" y="447" width="10" height="11" fill="#F0C000"/>
<rect x="266" y="448" width="8" height="10" fill="#009000"/>
<rect x="274" y="447" width="11" height="11" fill="#F0C000"/>
<rect x="275" y="448" width="9" height="10" fill="#009000"/>
<rect x="284" y="456" width="10" height="2" fill="#F0C000"/>
<rect x="285" y="457" width="8" height="1" fill="#009000"/>
<rect x="293" y="435" width="11" height="23" fill="#F0C000"/>
<rect x="294" y="436" width="9" height="22" fill="#009000"/>
<rect x="303" y="447" width="11" height="11" fill="#F0C000"/>
<rect x="304" y="448" width="9" height="10" fill="#009000"/>
<rect x="313" y="456" width="10" height="2" fill="#F0C000"/>
<rect x="314" y="457" width="8" height="1" fill="#009000"/>
<rect x="322" y="456" width="11" height="2" fill="#F0C000"/>
<rect x="323" y="457" width="9" height="1" fill="#009000"/>
<rect x="332" y="456" width="10" height="2" fill="#F0C000"/>
<rect x="333" y="457" width="8" height="1" fill="#009000"/>
<rect x="341" y="447" width="11" height="11" fill="#F0C000"/>
<rect x="342" y="448" width="9" height="10" fill="#009000"/>
<rect x="351" y="447" width="10" height="11" fill="#F0C000"/>
<rect x="352" y="448" width="8" height="10" fill="#009000"/>
<rect x="360" y="424" width="11" height="34" fill="#F0C000"/>
<rect x="361" y="425" width="9" height="33" fill="#009000"/>
<rect x="370" y="424" width="10" height="34" fill="#F0C000"/>
<rect x="371" y="425" width="8" height="33" fill="#009000"/>
<rect x="379" y="424" width="11" height="34" fill="#F0C000"/>
<rect x="380" y="425" width="9" height="33" fill="#009000"/>
<rect x="389" y="447" width="10" height="11" fill="#F0C000"/>
<rect x="390" y="448" width="8" height="10" fill="#009000"/>
<rect x="398" y="456" width="11" height="2" fill="#F0C000"/>
<rect x="399" y="457" width="9" height="1" fill="#009000"/>
<rect x="408" y="456" width="10" height="2" fill="#F0C000"/>
<rect x="409" y="457" width="8" height="1" fill="#009000"/>
<rect x="417" y="456" width="11" height="2" fill="#F0C000"/>
<rect x="418" y="457" width="9" height="1" fill="#009000"/>
<rect x="427" y="456" width="11" height="2" fill="#F0C000"/>
<rect x="428" y="457" width="9" height="1" fill="#009000"/>
<rect x="437" y="447" width="10" height="11" fill="#F0C000"/>
<rect x="438" y="448" width="8" height="10" fill="#009000"/>
<rect x="446" y="447" width="11" height="11" fill="#F0C000"/>
<rect x="447" y="448" width="9" height="10" fill="#009000"/>
<rect x="456" y="447" width="10" height="11" fill="#F0C000"/>
<rect x="457" y="448" width="8" height="10" fill="#009000"/>
<rect x="465" y="447" width="11" height="11" fill="#F0C000"/>
<rect x="466" y="448" width="9" height="10" fill="#009000"/>
<rect x="475" y="447" width="10" height="11" fill="#F0C000"/>
<rect x="476" y="448" width="8" height="10" fill="#009000"/>
<rect x="484" y="456" width="11" height="2" fill="#F0C000"/>
<rect x="485" y="457" width="9" height="1" fill="#009000"/>
<rect x="494" y="456" width="10" height="2" fill="#F0C000"/>
<rect x="495" y="457" width="8" height="1" fill="#009000"/>
<rect x="503" y="456" width="11" height="2" fill="#F0C000"/>
<rect x="504" y="457" width="9" height="1" fill="#009000"/>
<rect x="513" y="456" width="10" height="2" fill="#F0C000"/>
<rect x="514" y="457" width="8" height="1" fill="#009000"/>
<rect x="522" y="456" width="11" height="2" fill="#F0C000"/>
<rect x="523" y="457" width="9" height="1" fill="#009000"/>
<rect x="532" y="456" width="10" height="2" fill="#F0C000"/>
<rect x="533" y="457" width="8" height="1" fill="#009000"/>
<rect x="541" y="456" width="11" height="2" fill="#F0C000"/>
<rect x="542" y="457" width="9" height="1" fill="#009000"/>
<rect x="551" y="456" width="10" height="2" fill="#F0C000"/>
<rect x="552" y="457" width="8" height="1" fill="#009000"/>
<rect x="560" y="456" width="11" height="2" fill="#F0C000"/>
<rect x="561" y="457" width="9" height="1" fill="#009000"/>
<rect x="41" y="456" width="1" height="2" fill="#F0C000"/>
<rect x="50" y="456" width="1" height="2" fill="#F0C000"/>
<rect x="60" y="456" width="1" height="2" fill="#F0C000"/>
<rect x="69" y="456" width="1" height="2" fill="#F0C000"/>
<rect x="79" y="456" width="1" height="2" fill="#F0C000"/>
<rect x="88" y="456" width="1" height="2" fill="#F0C000"/>
<rect x="98" y="456" width="1" height="2" fill="#F0C000"/>
<rect x="108" y="456" width="1" height="2" fill="#F0C000"/>
<rect x="117" y="456" width="1" height="2" fill="#F0C000"/>
<rect x="127" y="456" width="1" height="2" fill="#F0C000"/>
<rect x="136" y="456" width="1" height="2" fill="#F0C000"/>
<rect x="146" y="456" width="1" height="2" fill="#F0C000"/>
<rect x="155" y="456" width="1" height="2" fill="#F0C000"/>
<rect x="165" y="456" width="1" height="2" fill="#F0C000"/>
<rect x="174" y="456" width="1" height="2" fill="#F0C000"/>
<rect x="184" y="456" width="1" height="2" fill="#F0C000"/>
<rect x="193" y="456" width="1" height="2" fill="#F0C000"/>
<rect x="203" y="456" width="1" height="2" fill="#F0C000"/>
<rect x="212" y="456" width="1" height="2" fill="#F0C000"/>
<rect x="222" y="456" width="1" height="2" fill="#F0C000"/>
<rect x="232" y="456" width="1" height="2" fill="#F0C000"/>
<rect x="241" y="456" width="1" height="2" fill="#F0C000"/>
<rect x="251" y="456" width="1" height="2" fill="#F0C000"/>
<rect x="260" y="456" width="1" height="2" fill="#F0C000"/>
<rect x="270" y="456" width="1" height="2" fill="#F0C000"/>
<rect x="279" y="456" width="1" height="2" fill="#F0C000"/>
<rect x="289" y="456" width="1" height="2" fill="#F0C000"/>
<rect x="298" y="456" width="1" height="2" fill="#F0C000"/>
<rect x="308" y="456" width="1" height="2" fill="#F0C000"/>
<rect x="317" y="456" width="1" height="2" fill="#F0C000"/>
<rect x="327" y="456" width="1" height="2" fill="#F0C000"/>
<rect x="336" y="456" width="1" height="2" fill="#F0C000"/>
<rect x="346" y="456" width="1" height="2" fill="#F0C000"/>
<rect x="355" y="456" width="1" height="2" fill="#F0C000"/>
<rect x="365" y="456" width="1" height="2" fill="#F0C000"/>
<rect x="375" y="456" width="1" height="2" fill="#F0C000"/>
<rect x="384" y="456" width="1" height="2" fill="#F0C000"/>
<rect x="394" y="456" width="1" height="2" fill="#F0C000"/>
<rect x="403" y="456" width="1" height="2" fill="#F0C000"/>
<rect x="413" y="456" width="1" height="2" fill="#F0C000"/>
<rect x="422" y="456" width="1" height="2" fill="#F0C000"/>
<rect x="432" y="456" width="1" height="2" fill="#F0C000"/>
<rect x="441" y="456" width="1" height="2" fill="#F0C000"/>
<rect x="451" y="456" width="1" height="2" fill="#F0C000"/>
<rect x="460" y="456" width="1" height="2" fill="#F0C000"/>
<rect x="470" y="456" width="1" height="2" fill="#F0C000"/>
<rect x="479" y="456" width="1" height="2" fill="#F0C000"/>
<rect x="489" y="456" width="1" height="2" fill="#F0C000"/>
<rect x="499" y="456" width="1" height="2" fill="#F0C000"/>
<rect x="508" y="456" width="1" height="2" fill="#F0C000"/>
<rect x="518" y="456" width="1" height="2" fill="#F0C000"/>
<rect x="527" y="456" width="1" height="2" fill="#F0C000"/>
<rect x="537" y="456" width="1" height="2" fill="#F0C000"/>
<rect x="546" y="456" width="1" height="2" fill="#F0C000"/>
<rect x="556" y="456" width="1" height="2" fill="#F0C000"/>
<rect x="565" y="456" width="1" height="2" fill="#F0C000"/>
<path d="M37 413.5H570" stroke="#707070" stroke-dasharray="1 3" fill="none"/>
<path d="M38 401.5H570" stroke="#707070" stroke-dasharray="1 3" fill="none"/>
<path d="M39 379.5H570" stroke="#707070" stroke-dasharray="1 3" fill="none"/>
<rect x="112" y="357" width="1" height="1" fill="#000"/>
<rect x="112" y="358" width="1" height="1" fill="#707070"/>
<path d="M112.5 362V458" stroke="#707070" stroke-dasharray="1 3" fill="none"/>
<rect x="189" y="357" width="1" height="1" fill="#000"/>
<rect x="189" y="358" width="1" height="1" fill="#707070"/>
<path d="M189.5 362V458" stroke="#707070" stroke-dasharray="1 3" fill="none"/>
<rect x="265" y="357" width="1" height="1" fill="#000"/>
<rect x="265" y="358" width="1" height="1" fill="#707070"/>
<path d="M265.5 362V458" stroke="#707070" stroke-dasharray="1 3" fill="none"/>
<rect x="341" y="357" width="1" height="1" fill="#000"/>
<rect x="341" y="358" width="1" height="1" fill="#707070"/>
<path d="M341.5 362V458" stroke="#707070" stroke-dasharray="1 3" fill="none"/>
<rect x="417" y="357" width="1" height="1" fill="#000"/>
<rect x="417" y="358" width="1" height="1" fill="#707070"/>
<path d="M417.5 362V458" stroke="#707070" stroke-dasharray="1 3" fill="none"/>
<rect x="494" y="357" width="1" height="1" fill="#000"/>
<rect x="494" y="358" width="1" height="1" fill="#707070"/>
<path d="M494.5 362V458" stroke="#707070" stroke-dasharray="1 3" fill="none"/>
<rect x="36" y="356" width="535" height="1" fill="#000"/>
<rect x="36" y="458" width="535" height="1" fill="#000"/>
<rect x="36" y="356" width="1" height="103" fill="#000"/>
<rect x="570" y="356" width="1" height="103" fill="#000"/>
<rect x="570" y="456" width="1" height="1" fill="#F0C000"/>
<path d="M570.5 362V458" stroke="#666" stroke-dasharray="1 3" fill="none"/>
<rect x="384" y="5" width="13" height="10" fill="#009000"/>
<rect x="444" y="5" width="13" height="10" fill="#F0C000"/>
<rect x="486" y="5" width="13" height="10" fill="#FF0000"/>
<rect x="546" y="5" width="13" height="10" fill="#400080"/>
</g>
<g>
<text y="122" font-size="10" xml:space="preserve"><tspan x="27.59" textLength="5.82" lengthAdjust="spacingAndGlyphs">0</tspan></text>
<text y="114" font-size="10" xml:space="preserve"><tspan x="27.12" textLength="6.45" lengthAdjust="spacingAndGlyphs">1</tspan></text>
<text y="103" font-size="10" xml:space="preserve"><tspan x="27.45" textLength="6.10" lengthAdjust="spacingAndGlyphs">2</tspan></text>
<text y="92" font-size="10" xml:space="preserve"><tspan x="27.60" textLength="5.87" lengthAdjust="spacingAndGlyphs">3</tspan></text>
<text y="80" font-size="10" xml:space="preserve"><tspan x="27.77" textLength="5.52" lengthAdjust="spacingAndGlyphs">4</tspan></text>
<text y="69" font-size="10" xml:space="preserve"><tspan x="27.58" textLength="5.87" lengthAdjust="spacingAndGlyphs">5</tspan></text>
<text y="58" font-size="10" xml:space="preserve"><tspan x="27.45" textLength="6.03" lengthAdjust="spacingAndGlyphs">6</tspan></text>
<text y="46" font-size="10" xml:space="preserve"><tspan x="27.44" textLength="6.12" lengthAdjust="spacingAndGlyphs">7</tspan></text>
<text y="35" font-size="10" xml:space="preserve"><tspan x="27.54" textLength="5.93" lengthAdjust="spacingAndGlyphs">8</tspan></text>
<text y="26" font-size="10" xml:space="preserve"><tspan x="27.49" textLength="6.02" lengthAdjust="spacingAndGlyphs">9</tspan></text>
<text y="235" font-size="10" xml:space="preserve"><tspan x="27.59" textLength="5.82" lengthAdjust="spacingAndGlyphs">0</tspan></text>
<text y="227" font-size="10" xml:space="preserve"><tspan x="27.12" textLength="6.45" lengthAdjust="spacingAndGlyphs">1</tspan></text>
<text y="215" font-size="10" xml:space="preserve"><tspan x="27.45" textLength="6.10" lengthAdjust="spacingAndGlyphs">2</tspan></text>
<text y="204" font-size="10" xml:space="preserve"><tspan x="27.60" textLength="5.87" lengthAdjust="spacingAndGlyphs">3</tspan></text>
<text y="193" font-size="10" xml:space="preserve"><tspan x="27.77" textLength="5.52" lengthAdjust="spacingAndGlyphs">4</tspan></text>
<text y="181" font-size="10" xml:space="preserve"><tspan x="27.58" textLength="5.87" lengthAdjust="spacingAndGlyphs">5</tspan></text>
<text y="170" font-size="10" xml:space="preserve"><tspan x="27.45" textLength="6.03" lengthAdjust="spacingAndGlyphs">6</tspan></text>
<text y="159" font-size="10" xml:space="preserve"><tspan x="27.44" textLength="6.12" lengthAdjust="spacingAndGlyphs">7</tspan></text>
<text y="147" font-size="10" xml:space="preserve"><tspan x="27.54" textLength="5.93" lengthAdjust="spacingAndGlyphs">8</tspan></text>
<text y="138" font-size="10" xml:space="preserve"><tspan x="27.49" textLength="6.02" lengthAdjust="spacingAndGlyphs">9</tspan></text>
<text y="347" font-size="10" xml:space="preserve"><tspan x="27.59" textLength="5.82" lengthAdjust="spacingAndGlyphs">0</tspan></text>
<text y="339" font-size="10" xml:space="preserve"><tspan x="27.12" textLength="6.45" lengthAdjust="spacingAndGlyphs">1</tspan></text>
<text y="328" font-size="10" xml:space="preserve"><tspan x="27.45" textLength="6.10" lengthAdjust="spacingAndGlyphs">2</tspan></text>
<text y="316" font-size="10" xml:space="preserve"><tspan x="27.60" textLength="5.87" lengthAdjust="spacingAndGlyphs">3</tspan></text>
<text y="305" font-size="10" xml:space="preserve"><tspan x="27.77" textLength="5.52" lengthAdjust="spacingAndGlyphs">4</tspan></text>
<text y="294" font-size="10" xml:space="preserve"><tspan x="27.58" textLength="5.87" lengthAdjust="spacingAndGlyphs">5</tspan></text>
<text y="282" font-size="10" xml:space="preserve"><tspan x="27.45" textLength="6.03" lengthAdjust="spacingAndGlyphs">6</tspan></text>
<text y="271" font-size="10" xml:space="preserve"><tspan x="27.44" textLength="6.12" lengthAdjust="spacingAndGlyphs">7</tspan></text>
<text y="260" font-size="10" xml:space="preserve"><tspan x="27.54" textLength="5.93" lengthAdjust="spacingAndGlyphs">8</tspan></text>
<text y="250" font-size="10" xml:space="preserve"><tspan x="27.49" textLength="6.02" lengthAdjust="spacingAndGlyphs">9</tspan></text>
<text y="459" font-size="10" xml:space="preserve"><tspan x="27.59" textLength="5.82" lengthAdjust="spacingAndGlyphs">0</tspan></text>
<text y="451" font-size="10" xml:space="preserve"><tspan x="27.12" textLength="6.45" lengthAdjust="spacingAndGlyphs">1</tspan></text>
<text y="440" font-size="10" xml:space="preserve"><tspan x="27.45" textLength="6.10" lengthAdjust="spacingAndGlyphs">2</tspan></text>
<text y="428" font-size="10" xml:space="preserve"><tspan x="27.60" textLength="5.87" lengthAdjust="spacingAndGlyphs">3</tspan></text>
<text y="417" font-size="10" xml:space="preserve"><tspan x="27.77" textLength="5.52" lengthAdjust="spacingAndGlyphs">4</tspan></text>
<text y="406" font-size="10" xml:space="preserve"><tspan x="27.58" textLength="5.87" lengthAdjust="spacingAndGlyphs">5</tspan></text>
<text y="394" font-size="10" xml:space="preserve"><tspan x="27.45" textLength="6.03" lengthAdjust="spacingAndGlyphs">6</tspan></text>
<text y="383" font-size="10" xml:space="preserve"><tspan x="27.44" textLength="6.12" lengthAdjust="spacingAndGlyphs">7</tspan></text>
<text y="372" font-size="10" xml:space="preserve"><tspan x="27.54" textLength="5.93" lengthAdjust="spacingAndGlyphs">8</tspan></text>
<text y="363" font-size="10" xml:space="preserve"><tspan x="27.49" textLength="6.02" lengthAdjust="spacingAndGlyphs">9</tspan></text>
<text transform="translate(13.3,95.70) rotate(-90)" font-size="13" xml:space="preserve"><tspan y="0" x="-1.06" textLength="44.47" lengthAdjust="spacingAndGlyphs">Boulder</tspan></text>
<text transform="translate(13.3,227.60) rotate(-90)" font-size="13" xml:space="preserve"><tspan y="0" x="-1.05" textLength="85.27" lengthAdjust="spacingAndGlyphs">Fredericksburg</tspan></text>
<text transform="translate(13.3,340.80) rotate(-90)" font-size="13" xml:space="preserve"><tspan y="0" x="-1.11" textLength="83.93" lengthAdjust="spacingAndGlyphs">Est. Planetary</tspan></text>
<text transform="translate(13.3,427.80) rotate(-90)" font-size="13" xml:space="preserve"><tspan y="0" x="-0.64" textLength="43.01" lengthAdjust="spacingAndGlyphs">College</tspan></text>
<text y="15" font-size="14.5" xml:space="preserve"><tspan x="0.47" textLength="7.74" lengthAdjust="spacingAndGlyphs">3</tspan><tspan x="7.00" textLength="15.00" lengthAdjust="spacingAndGlyphs" dy="-0.8">-</tspan><tspan x="20.85" textLength="33.23" lengthAdjust="spacingAndGlyphs" dy="0.8">hour</tspan><tspan> </tspan><tspan x="61.91" textLength="8.84" lengthAdjust="spacingAndGlyphs">K</tspan><tspan x="70.07" textLength="14.46" lengthAdjust="spacingAndGlyphs" dy="-0.8">-</tspan><tspan x="82.20" textLength="50.99" lengthAdjust="spacingAndGlyphs" dy="0.8">indices</tspan><tspan> </tspan><tspan x="140.06" textLength="19.51" lengthAdjust="spacingAndGlyphs">for</tspan><tspan> </tspan><tspan x="167.40" textLength="30.02" lengthAdjust="spacingAndGlyphs">Last</tspan><tspan> </tspan><tspan x="204.90" textLength="9.79" lengthAdjust="spacingAndGlyphs">7</tspan><tspan> </tspan><tspan x="222.06" textLength="32.09" lengthAdjust="spacingAndGlyphs">days</tspan></text>
<text y="15" font-size="11.5" xml:space="preserve"><tspan x="336.07" textLength="41.17" lengthAdjust="spacingAndGlyphs">Legend:</tspan></text>
<text y="15" font-size="11.5" xml:space="preserve"><tspan x="402.59" textLength="5.82" lengthAdjust="spacingAndGlyphs">0</tspan><tspan x="408.73" textLength="9.55" lengthAdjust="spacingAndGlyphs">-</tspan><tspan x="417.52" textLength="7.04" lengthAdjust="spacingAndGlyphs">3</tspan></text>
<text y="15" font-size="11.5" xml:space="preserve"><tspan x="462.73" textLength="6.62" lengthAdjust="spacingAndGlyphs">4</tspan></text>
<text y="15" font-size="11.5" xml:space="preserve"><tspan x="504.49" textLength="7.04" lengthAdjust="spacingAndGlyphs">5</tspan><tspan x="510.92" textLength="3.96" lengthAdjust="spacingAndGlyphs">,</tspan><tspan x="514.34" textLength="7.23" lengthAdjust="spacingAndGlyphs">6</tspan></text>
<text y="15" font-size="11.5" xml:space="preserve"><tspan x="564.44" textLength="6.12" lengthAdjust="spacingAndGlyphs">7</tspan><tspan x="570.73" textLength="9.55" lengthAdjust="spacingAndGlyphs">-</tspan><tspan x="579.39" textLength="7.22" lengthAdjust="spacingAndGlyphs">9</tspan></text>
<text y="473" font-size="11.5" xml:space="preserve"><tspan x="17.52" textLength="18.72" lengthAdjust="spacingAndGlyphs">Sep</tspan><tspan> </tspan><tspan x="41.20" textLength="14.37" lengthAdjust="spacingAndGlyphs">03</tspan></text>
<text y="473" font-size="11.5" xml:space="preserve"><tspan x="93.81" textLength="18.72" lengthAdjust="spacingAndGlyphs">Sep</tspan><tspan> </tspan><tspan x="117.49" textLength="14.17" lengthAdjust="spacingAndGlyphs">04</tspan></text>
<text y="473" font-size="11.5" xml:space="preserve"><tspan x="170.09" textLength="18.72" lengthAdjust="spacingAndGlyphs">Sep</tspan><tspan> </tspan><tspan x="193.77" textLength="14.35" lengthAdjust="spacingAndGlyphs">05</tspan></text>
<text y="473" font-size="11.5" xml:space="preserve"><tspan x="246.38" textLength="18.72" lengthAdjust="spacingAndGlyphs">Sep</tspan><tspan> </tspan><tspan x="270.05" textLength="14.37" lengthAdjust="spacingAndGlyphs">06</tspan></text>
<text y="473" font-size="11.5" xml:space="preserve"><tspan x="322.67" textLength="18.72" lengthAdjust="spacingAndGlyphs">Sep</tspan><tspan> </tspan><tspan x="346.33" textLength="14.46" lengthAdjust="spacingAndGlyphs">07</tspan></text>
<text y="473" font-size="11.5" xml:space="preserve"><tspan x="398.95" textLength="18.72" lengthAdjust="spacingAndGlyphs">Sep</tspan><tspan> </tspan><tspan x="422.62" textLength="14.37" lengthAdjust="spacingAndGlyphs">08</tspan></text>
<text y="473" font-size="11.5" xml:space="preserve"><tspan x="475.24" textLength="18.72" lengthAdjust="spacingAndGlyphs">Sep</tspan><tspan> </tspan><tspan x="498.91" textLength="14.42" lengthAdjust="spacingAndGlyphs">09</tspan></text>
<text y="473" font-size="11.5" xml:space="preserve"><tspan x="551.52" textLength="18.72" lengthAdjust="spacingAndGlyphs">Sep</tspan><tspan> </tspan><tspan x="574.68" textLength="14.84" lengthAdjust="spacingAndGlyphs">10</tspan></text>
<text y="490" font-size="13" xml:space="preserve"><tspan x="192.28" textLength="69.35" lengthAdjust="spacingAndGlyphs">Coordinate</tspan><tspan> </tspan><tspan x="268.51" textLength="59.04" lengthAdjust="spacingAndGlyphs">Universal</tspan><tspan> </tspan><tspan x="334.70" textLength="29.90" lengthAdjust="spacingAndGlyphs">Time</tspan><tspan> </tspan><tspan x="371.75" textLength="37.09" lengthAdjust="spacingAndGlyphs">(UTC)</tspan></text>
<text y="505" font-size="14.5" xml:space="preserve"><tspan x="1.61" textLength="57.57" lengthAdjust="spacingAndGlyphs" font-family="'Liberation Serif', serif" font-weight="bold" font-size="15">Updated</tspan><tspan> </tspan><tspan x="65.93" textLength="34.17" lengthAdjust="spacingAndGlyphs">2020</tspan><tspan> </tspan><tspan x="106.06" textLength="25.24" lengthAdjust="spacingAndGlyphs">Sep</tspan><tspan>  </tspan><tspan x="144.07" textLength="8.67" lengthAdjust="spacingAndGlyphs">9</tspan><tspan> </tspan><tspan x="159.25" textLength="33.34" lengthAdjust="spacingAndGlyphs">2130</tspan></text>
<text y="505" font-size="14.5" xml:space="preserve"><tspan x="403.63" textLength="79.36" lengthAdjust="spacingAndGlyphs">NOAA/SWPC</tspan><tspan> </tspan><tspan x="489.62" textLength="53.78" lengthAdjust="spacingAndGlyphs">Boulder,</tspan><tspan> </tspan><tspan x="550.08" textLength="18.30" lengthAdjust="spacingAndGlyphs">CO</tspan><tspan> </tspan><tspan x="574.75" textLength="25.27" lengthAdjust="spacingAndGlyphs">USA</tspan></text>
</g>
</svg>
</body></html>
